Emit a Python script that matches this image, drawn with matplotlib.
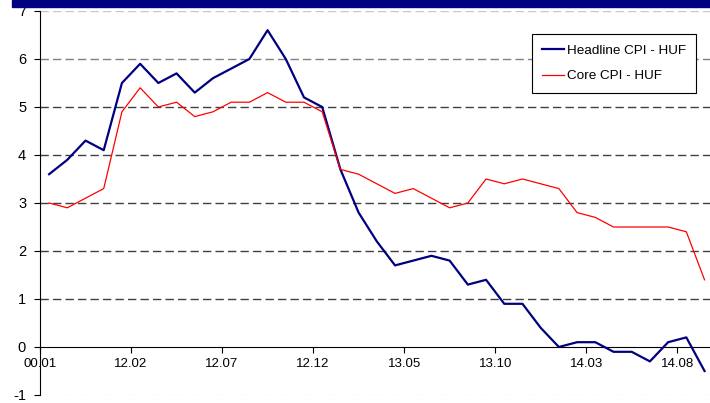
import numpy as np
import matplotlib
matplotlib.use("Agg")
import matplotlib.pyplot as plt
from matplotlib.patches import Rectangle

plt.rcParams['font.family'] = ['Liberation Sans', 'DejaVu Sans']
plt.rcParams['axes.unicode_minus'] = False

tick_labels = ["00.01", "12.02", "12.07", "12.12", "13.05", "13.10", "14.03", "14.08"]

headline = [3.6, 3.9, 4.3, 4.1, 5.5, 5.9, 5.5, 5.7, 5.3, 5.6, 5.8, 6.0, 6.6, 6.0, 5.2, 5.0,
            3.7, 2.8, 2.2, 1.7, 1.8, 1.9, 1.8, 1.3, 1.4, 0.9, 0.9, 0.4, 0.0, 0.1, 0.1,
            -0.1, -0.1, -0.3, 0.1, 0.2, -0.5]
core = [3.0, 2.9, 3.1, 3.3, 4.9, 5.4, 5.0, 5.1, 4.8, 4.9, 5.1, 5.1, 5.3, 5.1, 5.1, 4.9,
        3.7, 3.6, 3.4, 3.2, 3.3, 3.1, 2.9, 3.0, 3.5, 3.4, 3.5, 3.4, 3.3, 2.8, 2.7,
        2.5, 2.5, 2.5, 2.5, 2.4, 1.4]

x = np.arange(len(headline))

fig = plt.figure(figsize=(7.1, 4.03), dpi=100)
ax = fig.add_axes([40/710, 8/403, 670/710, 384/403])

# navy band at top
fig.patches.append(Rectangle((12/710, 396/403), 1, 7/403, transform=fig.transFigure,
                             color="#000080", zorder=0))

for v in range(-1, 8):
    if v == 0:
        continue
    c = "#404040"
    if v == 7:
        c = "#c8c8c8"
    elif v == 6:
        c = "#808080"
    elif v == -1:
        c = "#eeeeee"
    ax.axhline(v, color=c, lw=1, ls=(0, (6, 3)), zorder=1)

ax.plot(x, headline, color="#000080", lw=1.6, label="Headline CPI - HUF", zorder=3)
ax.plot(x, core, color="#ff0000", lw=0.9, label="Core CPI - HUF", zorder=3)

ax.set_xlim(-0.5, 36.3)
ax.set_ylim(-1, 7)
ax.set_yticks(range(-1, 8))
ax.set_xticks(np.arange(len(tick_labels)) * 5 - 0.5)
ax.set_xticklabels(tick_labels)

ax.spines['top'].set_visible(False)
ax.spines['right'].set_visible(False)
ax.spines['bottom'].set_position(('data', 0))
ax.spines['bottom'].set_zorder(2)
ax.tick_params(axis='y', direction='out', length=4, labelsize=10.5, pad=6)
ax.tick_params(axis='x', direction='out', length=4, labelsize=9.5, pad=4)

leg = ax.legend(loc='upper right', bbox_to_anchor=(0.979, 0.94), borderaxespad=0,
                fancybox=False, edgecolor='black', framealpha=1, fontsize=9.7,
                handlelength=1.6, handletextpad=0.2, labelspacing=1.0, borderpad=0.75)
leg.get_frame().set_linewidth(0.8)

fig.savefig("out.png", dpi=100)
